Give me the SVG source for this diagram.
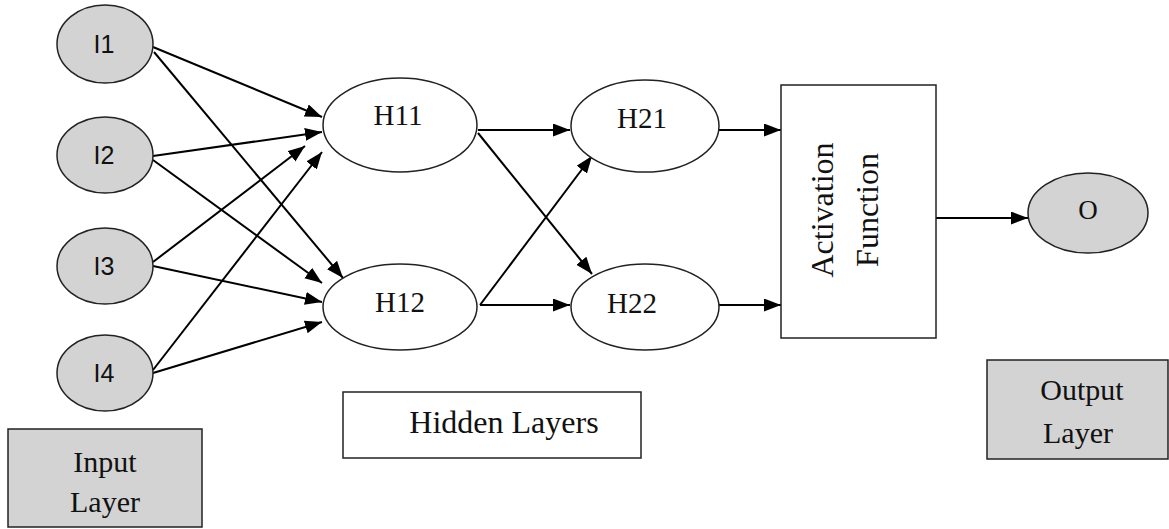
<svg xmlns="http://www.w3.org/2000/svg" width="1169" height="529" viewBox="0 0 1169 529">
<style>
.gray{fill:#d3d3d3;stroke:#222;stroke-width:1.5}
.white{fill:#fff;stroke:#222;stroke-width:1.5}
.sans{font-family:"Liberation Sans",Arial,sans-serif;font-size:25px;fill:#111;text-anchor:middle}
.serif{font-family:"Liberation Serif","Times New Roman",serif;fill:#111;text-anchor:middle}
.edge{stroke:#000;stroke-width:2;fill:none;marker-end:url(#arr)}
</style>
<defs>
<marker id="arr" markerUnits="userSpaceOnUse" markerWidth="18" markerHeight="14" refX="17" refY="6.5" orient="auto">
<path d="M0,0 L17,6.5 L0,13 z" fill="#000"/>
</marker>
</defs>
<rect width="1169" height="529" fill="#fff"/>
<g id="connectors">
<line class="edge" x1="153" y1="47" x2="322" y2="117"/>
<line class="edge" x1="154" y1="52" x2="343" y2="278"/>
<line class="edge" x1="153" y1="156" x2="322" y2="132"/>
<line class="edge" x1="153" y1="160" x2="322" y2="283"/>
<line class="edge" x1="153" y1="262" x2="305" y2="146"/>
<line class="edge" x1="153" y1="266" x2="322" y2="302"/>
<line class="edge" x1="153" y1="370" x2="322" y2="152"/>
<line class="edge" x1="153" y1="373" x2="322" y2="322"/>
<line class="edge" x1="478" y1="130" x2="570" y2="130"/>
<line class="edge" x1="478" y1="133" x2="592" y2="274"/>
<line class="edge" x1="480" y1="305" x2="592" y2="156"/>
<line class="edge" x1="480" y1="305" x2="570" y2="305"/>
<line class="edge" x1="719" y1="130" x2="781" y2="130"/>
<line class="edge" x1="719" y1="305" x2="781" y2="305"/>
<line class="edge" x1="936" y1="218" x2="1028" y2="218"/>
</g>
<g id="I1"><ellipse class="gray" cx="105" cy="44" rx="48" ry="39"/><text class="sans" x="104" y="53">I1</text></g>
<g id="I2"><ellipse class="gray" cx="105" cy="155" rx="48" ry="38"/><text class="sans" x="104" y="164">I2</text></g>
<g id="I3"><ellipse class="gray" cx="105" cy="266" rx="48" ry="38"/><text class="sans" x="104" y="275">I3</text></g>
<g id="I4"><ellipse class="gray" cx="105" cy="373" rx="48" ry="38"/><text class="sans" x="104" y="382">I4</text></g>
<g id="H11"><ellipse class="white" cx="400" cy="125" rx="77" ry="47"/><text class="serif" font-size="29" x="398" y="125">H11</text></g>
<g id="H12"><ellipse class="white" cx="400" cy="307" rx="77" ry="43"/><text class="serif" font-size="29" x="400" y="312">H12</text></g>
<g id="H21"><ellipse class="white" cx="645" cy="126" rx="74" ry="46"/><text class="serif" font-size="29" x="642" y="128">H21</text></g>
<g id="H22"><ellipse class="white" cx="645" cy="307" rx="74" ry="43"/><text class="serif" font-size="29" x="632" y="313">H22</text></g>
<g id="activation"><rect class="white" x="781" y="85" width="155" height="253"/>
<text class="serif" font-size="32" transform="translate(833,210) rotate(-90)">Activation</text>
<text class="serif" font-size="32" transform="translate(878,210) rotate(-90)">Function</text></g>
<g id="O"><ellipse class="gray" cx="1088" cy="213" rx="60" ry="40"/><text class="serif" font-size="27" x="1088" y="219">O</text></g>
<g id="input-layer"><rect class="gray" x="8" y="429" width="194" height="98"/>
<text class="serif" font-size="30" x="105" y="472">Input</text><text class="serif" font-size="30" x="105" y="512">Layer</text></g>
<g id="hidden-layers"><rect class="white" x="343" y="392" width="298" height="66"/>
<text class="serif" font-size="32" x="504" y="433">Hidden Layers</text></g>
<g id="output-layer"><rect class="gray" x="987" y="360" width="181" height="99"/>
<text class="serif" font-size="30" x="1082" y="400">Output</text><text class="serif" font-size="30" x="1078" y="443">Layer</text></g>
</svg>
